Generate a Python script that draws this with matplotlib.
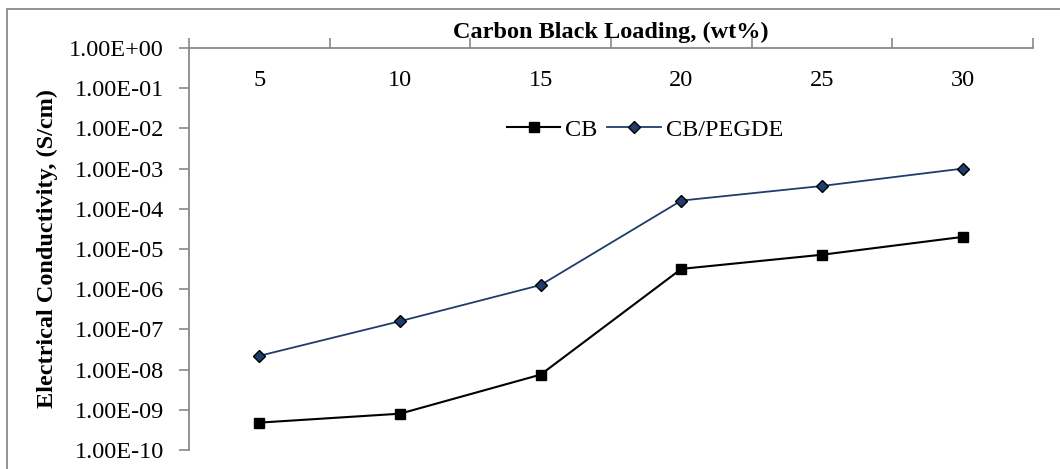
import numpy as np
import matplotlib.pyplot as plt
from matplotlib.patches import Rectangle

plt.rcParams['font.family'] = ['Liberation Serif', 'DejaVu Serif']

# Data
loading = ["5", "10", "15", "20", "25", "30"]
cb = [4.8e-10, 8.0e-10, 7.5e-9, 3.2e-6, 7.2e-6, 2.0e-5]
cb_pegde = [2.2e-8, 1.6e-7, 1.27e-6, 1.6e-4, 3.7e-4, 1.0e-3]

fs = 17.5

fig = plt.figure(figsize=(10.6, 4.69), dpi=100)
ax = fig.add_axes([189 / 1060, 1 - 450 / 469, (1033 - 189) / 1060, (450 - 48) / 469])

x = np.arange(len(loading))
ax.plot(x, cb, color="black", lw=1.5, marker="s", ms=7, mfc="black", mec="black", label="CB")
ax.plot(x, cb_pegde, color="#1f3d6b", lw=1.3, marker="D", ms=6, mfc="#1f3d6b", mec="black",
        mew=1.0, label="CB/PEGDE")

ax.set_yscale("log")
ax.set_ylim(1e-10, 1e0)
ax.set_yticks([10.0 ** k for k in range(-10, 1)])
ax.yaxis.set_minor_locator(plt.NullLocator())
ax.set_yticklabels(["%.2E" % (10.0 ** k) for k in range(-10, 1)])
ax.tick_params(axis="y", which="major", direction="out", length=7, width=1.2, color="#898989",
               labelsize=fs, pad=11)

# category axis on top, labels inside the plot area
ax.set_xlim(-0.5, len(loading) - 0.5)
ax.xaxis.tick_top()
ax.set_xticks(np.arange(-0.5, len(loading)), labels=[])
ax.set_xticks(x, labels=loading, minor=True)
ax.tick_params(axis="x", which="major", direction="out", length=7, width=1.2, color="#898989")
ax.tick_params(axis="x", which="minor", length=0, labelsize=fs, pad=-31)

for s in ["right", "bottom"]:
    ax.spines[s].set_visible(False)
for s in ["left", "top"]:
    ax.spines[s].set_color("#898989")
    ax.spines[s].set_linewidth(1.3)

ax.set_title("Carbon Black Loading, (wt%)", fontsize=fs, fontweight="bold", pad=7)
ax.set_ylabel("Electrical Conductivity, (S/cm)", fontsize=fs, fontweight="bold", labelpad=8)

ax.legend(loc="center", bbox_to_anchor=(645 / 1060, 1 - 130 / 469),
          bbox_transform=fig.transFigure, ncol=2, frameon=False, fontsize=fs,
          handlelength=2.2, handletextpad=0.2, columnspacing=0.4)

# outer chart border
fig.patches.append(Rectangle((7 / 1060, -0.05), 1.1, 1 - 9 / 469 + 0.05, transform=fig.transFigure,
                             fill=False, edgecolor="#898989", lw=1.3))

fig.savefig("out.png", dpi=100)
